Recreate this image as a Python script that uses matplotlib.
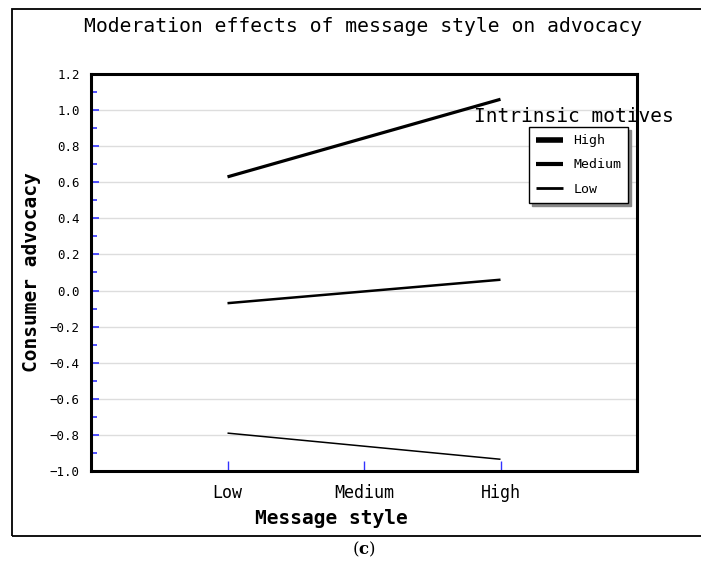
import matplotlib.pyplot as plt
import matplotlib.patches as patches
import numpy as np

# values
x_labels = ['Low', 'Medium', 'High']
x_pos = [0, 1, 2]
line_x = [0, 2]
high_motive = [0.63, 1.06]
medium_motive = [-0.07, 0.06]
low_motive = [-0.79, -0.935]
y_ticks = np.round(np.arange(-1.0, 1.21, 0.2), 1)

mono = 'DejaVu Sans Mono'
plt.rcParams['mathtext.fontset'] = 'dejavuserif'

fig = plt.figure(figsize=(7.01, 5.71), dpi=100)
ax = fig.add_axes([91 / 701, 1 - 471 / 571, 546 / 701, 397 / 571])

ax.plot(line_x, high_motive, color='black', lw=2.3, label='High', solid_capstyle='butt')
ax.plot(line_x, medium_motive, color='black', lw=1.8, label='Medium', solid_capstyle='butt')
ax.plot(line_x, low_motive, color='black', lw=1.1, label='Low', solid_capstyle='butt')

ax.set_xlim(-1, 3)
ax.set_ylim(-1.0, 1.2)
ax.set_xticks(x_pos)
ax.set_xticklabels(x_labels, fontfamily=mono, fontsize=12)
ax.set_yticks(y_ticks)
ylabels = []
for v in y_ticks:
    s = f'{abs(v):.1f}'
    ylabels.append('\u2212' + s if v < -1e-9 else s)
ax.set_yticklabels(ylabels, fontfamily=mono, fontsize=9)
ax.set_yticks(np.arange(-0.9, 1.2, 0.2), minor=True)

ax.tick_params(axis='y', which='major', direction='in', length=6, width=1.2,
               color='#3333ff', pad=8)
ax.tick_params(axis='y', which='minor', direction='in', length=4, width=1.2,
               color='#3333ff')
ax.tick_params(axis='x', direction='in', length=7, width=1.0, color='#3333ff', pad=9)

ax.grid(axis='y', color='#dddddd', lw=1.0)
ax.set_axisbelow(True)
for sp in ax.spines.values():
    sp.set_linewidth(2.2)
    sp.set_color('black')

ax.set_xlabel('Message style', fontfamily=mono, fontsize=14, fontweight='bold')
ax.set_ylabel('Consumer advocacy', fontfamily=mono, fontsize=14, fontweight='bold')
ax.xaxis.set_label_coords((331 - 91) / 546, -(509 - 471) / 397)
ax.yaxis.set_label_coords(-(91 - 41) / 546, 0.5)

fig.text(363 / 701, 1 - 27 / 571, 'Moderation effects of message style on advocacy',
         fontfamily=mono, fontsize=14.2, ha='center', va='center')

# legend with title placed above the box
leg = ax.legend(loc='upper left', bbox_to_anchor=((529 - 91) / 546, 1 - (127 - 74) / 397),
                prop={'family': mono, 'size': 9.5}, frameon=True, fancybox=False,
                shadow={'color': '#888888', 'alpha': 1.0}, borderpad=0.55,
                handlelength=2.0, labelspacing=0.85, borderaxespad=0)
leg.get_frame().set_edgecolor('black')
leg.get_frame().set_linewidth(1.0)
for h, w in zip(leg.get_lines(), [4.0, 3.0, 2.0]):
    h.set_linewidth(w)
fig.text(574 / 701, 1 - 116 / 571, 'Intrinsic motives', fontfamily=mono, fontsize=14,
         ha='center', va='center', zorder=10)

# outer frame around the figure panel
frame = patches.Rectangle((12 / 701, 1 - 536 / 571), 1.1, (536 - 9) / 571,
                          transform=fig.transFigure, fill=False, edgecolor='black',
                          lw=1.3, clip_on=False)
fig.patches.append(frame)

fig.text(364 / 701, 1 - 549 / 571, r'($\mathbf{c}$)', fontfamily='DejaVu Serif',
         fontsize=12, ha='center', va='center')

fig.savefig('out.png', dpi=100)
